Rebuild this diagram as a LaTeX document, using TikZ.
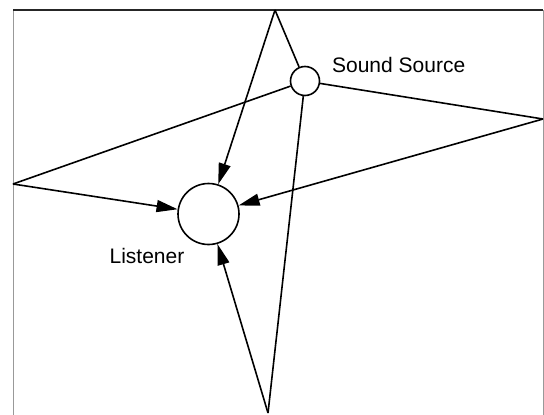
\documentclass[tikz,border=0pt]{standalone}
\usepackage{fontspec}
\setmainfont{Liberation Sans}
\usetikzlibrary{arrows.meta}
\begin{document}
\begin{tikzpicture}[x=1pt,y=-1pt,line width=1.6pt,
    font=\fontsize{21}{25}\selectfont,
    ray/.style={-{Triangle[length=21pt,width=12pt]}}]
    % Stanza vista dall'alto: misure in pt, y verso il basso.
    \useasboundingbox (0,0) rectangle (544,415);
    \draw [gray!80,line width=0.9pt] (13,415) -- (13,10); %parete sinistra
    \draw [gray!80,line width=0.9pt] (543,10) -- (543,415); %parete destra
    \draw [black!85,line width=1.2pt] (13,10) -- (543,10); %parete in alto
    % Punti di riflessione sulle pareti.
    \coordinate (top) at (275,10);
    \coordinate (right) at (543,119);
    \coordinate (left) at (13,184);
    \coordinate (bottom) at (268,413);
    \node [draw,circle,minimum size=29pt,inner sep=0pt] (src) at (305,81) {}; %sorgente
    \node [draw,circle,minimum size=61pt,inner sep=0pt] (lis) at (208.5,214) {}; %ascoltatore
    \node [anchor=west] (srclabel) at (328,65) {Sound Source};
    \node (lislabel) at (147,256) {Listener};
    % Raggi riflessi.
    \draw (src) -- (top);
    \draw [ray] (top) -- (lis);
    \draw (src) -- (right);
    \draw [ray] (right) -- (lis);
    \draw (src) -- (left);
    \draw [ray] (left) -- (lis);
    \draw (src) -- (bottom);
    \draw [ray] (bottom) -- (lis);
  \end{tikzpicture}
\end{document}
